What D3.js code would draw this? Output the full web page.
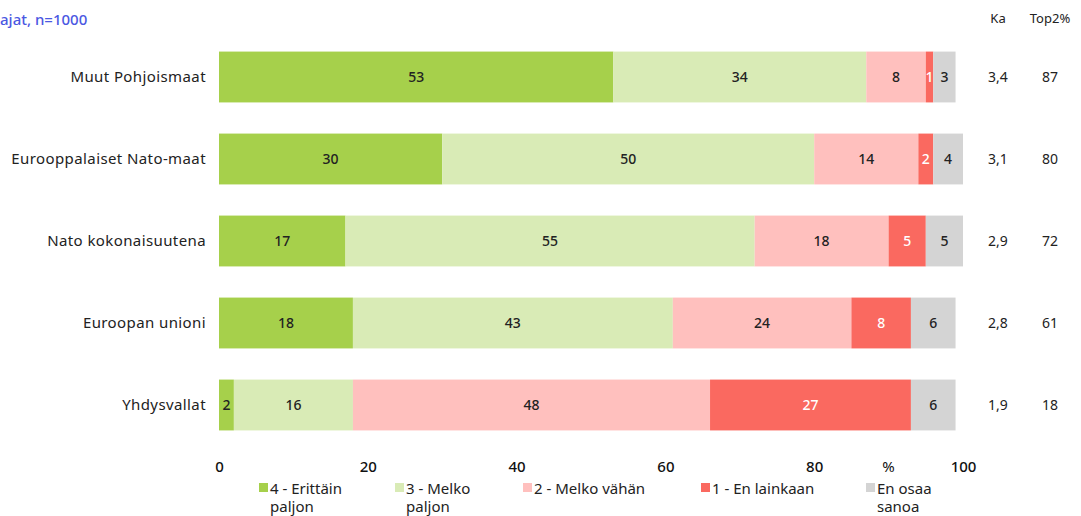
<!DOCTYPE html>
<html>
<head>
<meta charset="utf-8">
<script src="https://cdn.jsdelivr.net/npm/d3@7"></script>
<style>
  body { margin: 0; background: #fff; }
  svg { font-family: 'Noto Sans', sans-serif; }
</style>
</head>
<body>
<div id="chart"></div>
<script>
// categories (top to bottom)
const categories = ['Muut Pohjoismaat', 'Eurooppalaiset Nato-maat', 'Nato kokonaisuutena', 'Euroopan unioni', 'Yhdysvallat'];
// series values per category, %
const series = ['4 - Erittäin paljon', '3 - Melko paljon', '2 - Melko vähän', '1 - En lainkaan', 'En osaa sanoa'];
const erittain = [53, 30, 17, 18, 2];
const melkoPaljon = [34, 50, 55, 43, 16];
const melkoVahan = [8, 14, 18, 24, 48];
const enLainkaan = [1, 2, 5, 8, 27];
const eos = [3, 4, 5, 6, 6];
const ka = ['3,4', '3,1', '2,9', '2,8', '1,9'];
const top2 = [87, 80, 72, 61, 18];
const ticks = [0, 20, 40, 60, 80, 100];

const colors = ['#a6d04b', '#d9ebb6', '#ffc0be', '#fa6960', '#d4d4d4'];
const labelColors = ['#222', '#222', '#222', '#fff', '#222'];
const legendLines = [['4 - Erittäin', 'paljon'], ['3 - Melko', 'paljon'], ['2 - Melko vähän'], ['1 - En lainkaan'], ['En osaa', 'sanoa']];
const legendX = [259, 395, 523, 701, 866];

const width = 1081, height = 516;
const svg = d3.select('#chart').append('svg')
  .attr('width', width).attr('height', height);

const x = d3.scaleLinear().domain([0, 100]).range([219, 963]);
const y = d3.scaleBand().domain(categories).range([36, 446]).paddingInner(0.38).paddingOuter(0.19);

// stacked data
const rows = categories.map((c, i) => {
  const vals = [erittain[i], melkoPaljon[i], melkoVahan[i], enLainkaan[i], eos[i]];
  let acc = 0;
  return vals.map((v, k) => {
    const seg = { cat: c, k, v, x0: acc, x1: acc + v };
    acc += v;
    return seg;
  });
});
const segs = rows.flat();

// subtitle fragment (cropped in the source)
svg.append('text')
  .attr('x', 0).attr('y', 25)
  .attr('fill', '#4b58e2').style('font-size', '15px').style('font-weight', 500)
  .text('ajat, n=1000');

// bars
svg.append('g').selectAll('rect')
  .data(segs)
  .join('rect')
  .attr('x', d => x(d.x0))
  .attr('y', d => y(d.cat))
  .attr('width', d => x(d.x1) - x(d.x0))
  .attr('height', y.bandwidth())
  .attr('fill', d => colors[d.k]);

// segment labels
svg.append('g').selectAll('text')
  .data(segs)
  .join('text')
  .attr('x', d => (x(d.x0) + x(d.x1)) / 2)
  .attr('y', d => y(d.cat) + y.bandwidth() / 2 + 5)
  .attr('text-anchor', 'middle')
  .attr('fill', d => labelColors[d.k])
  .style('font-size', '14px')
  .style('font-weight', 500)
  .text(d => d.v);

// category labels
svg.append('g').selectAll('text')
  .data(categories)
  .join('text')
  .attr('x', 206)
  .attr('y', d => y(d) + y.bandwidth() / 2 + 5)
  .attr('text-anchor', 'end')
  .attr('fill', '#222')
  .style('font-size', '15px')
  .style('letter-spacing', '0.4px')
  .text(d => d);

// Ka and Top2% columns
const side = svg.append('g').style('font-size', '14px').attr('fill', '#222');
side.append('text').attr('x', 998).attr('y', 23).attr('text-anchor', 'middle').style('font-size', '13px').text('Ka');
side.append('text').attr('x', 1050).attr('y', 23).attr('text-anchor', 'middle').style('font-size', '13px').text('Top2%');
side.selectAll('text.ka')
  .data(categories)
  .join('text')
  .attr('class', 'ka')
  .attr('x', 998)
  .attr('y', d => y(d) + y.bandwidth() / 2 + 5)
  .attr('text-anchor', 'middle')
  .text((d, i) => ka[i]);
side.selectAll('text.top')
  .data(categories)
  .join('text')
  .attr('class', 'top')
  .attr('x', 1050)
  .attr('y', d => y(d) + y.bandwidth() / 2 + 5)
  .attr('text-anchor', 'middle')
  .text((d, i) => top2[i]);

// x axis
const axis = svg.append('g')
  .attr('transform', 'translate(0,455)')
  .call(d3.axisBottom(x).tickValues(ticks).tickSize(0).tickPadding(6));
axis.select('.domain').remove();
axis.selectAll('text')
  .attr('fill', '#111')
  .style('font-size', '15px')
  .style('font-weight', 500)
  .style('font-family', "'Noto Sans', sans-serif");
svg.append('text')
  .attr('x', x(90)).attr('y', 472)
  .attr('text-anchor', 'middle')
  .attr('fill', '#111').style('font-size', '15px')
  .text('%');

// legend
const legend = svg.append('g').selectAll('g')
  .data(series)
  .join('g')
  .attr('transform', (d, i) => `translate(${legendX[i]},0)`);
legend.append('rect')
  .attr('x', 0).attr('y', 483)
  .attr('width', 9).attr('height', 9)
  .attr('fill', (d, i) => colors[i]);
legend.append('text')
  .attr('x', 11).attr('y', 494)
  .attr('fill', '#222')
  .style('font-size', '15px')
  .selectAll('tspan')
  .data((d, i) => legendLines[i])
  .join('tspan')
  .attr('x', 11)
  .attr('dy', (d, j) => j === 0 ? 0 : 18)
  .text(d => d);
</script>
</body>
</html>
